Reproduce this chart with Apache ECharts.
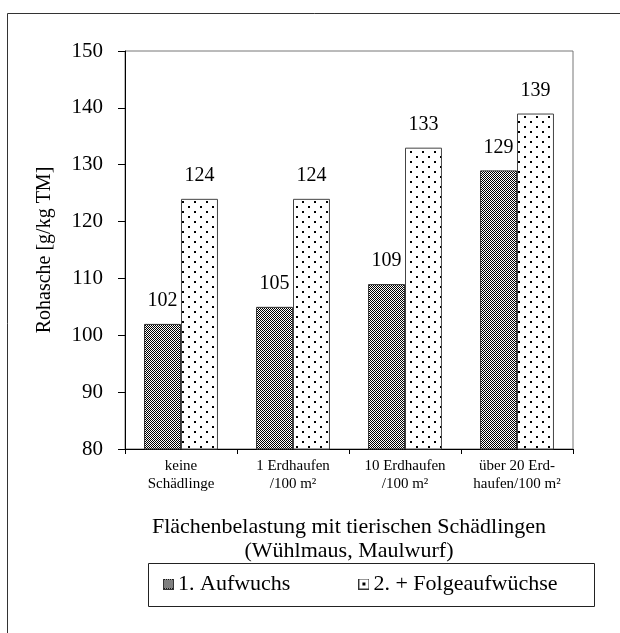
<!DOCTYPE html>
<html><head><meta charset="utf-8">
<script src="https://cdn.jsdelivr.net/npm/echarts@6/dist/echarts.min.js"></script>
<style>html,body{margin:0;padding:0;background:#fff}#c{width:620px;height:633px}</style>
</head><body><div id="c"></div>
<script>
const categories = ['keine\nSchädlinge', '1 Erdhaufen\n/100 m²', '10 Erdhaufen\n/100 m²', 'über 20 Erd-\nhaufen/100 m²'];
const seriesNames = ['1. Aufwuchs', '2. + Folgeaufwüchse'];
const aufwuchs1 = [102, 105, 109, 129];
const folgeaufwuchs = [124, 124, 133, 139];
const yTicks = {min: 80, max: 150, interval: 10};
const yName = 'Rohasche [g/kg TM]';
const xName = 'Flächenbelastung mit tierischen Schädlingen\n(Wühlmaus, Maulwurf)';

function checker() {
  const c = document.createElement('canvas'); c.width = 2; c.height = 2;
  const g = c.getContext('2d');
  g.fillStyle = '#fff'; g.fillRect(0,0,2,2);
  g.fillStyle = '#000'; g.fillRect(0,0,1,1); g.fillRect(1,1,1,1);
  return c;
}
function dots() {
  const c = document.createElement('canvas'); c.width = 12; c.height = 10;
  const g = c.getContext('2d');
  g.fillStyle = '#fff'; g.fillRect(0,0,12,10);
  g.fillStyle = '#000'; g.fillRect(2,1,2,2); g.fillRect(8,6,2,2);
  return c;
}
function iconChecker() {
  const c = document.createElement('canvas'); c.width = 11; c.height = 11;
  const g = c.getContext('2d');
  g.fillStyle = '#fff'; g.fillRect(0,0,11,11);
  g.fillStyle = '#000';
  for (let i = 1; i < 10; i++) for (let j = 1; j < 10; j++) if ((i + j) % 2 === 0) g.fillRect(i, j, 1, 1);
  g.strokeStyle = '#333'; g.lineWidth = 1; g.strokeRect(0.5, 0.5, 10, 10);
  return 'image://' + c.toDataURL();
}
function iconDot() {
  const c = document.createElement('canvas'); c.width = 11; c.height = 11;
  const g = c.getContext('2d');
  g.fillStyle = '#fff'; g.fillRect(0,0,11,11);
  g.fillStyle = '#000'; g.fillRect(4,4,3,3);
  g.strokeStyle = '#333'; g.lineWidth = 1; g.strokeRect(0.5, 0.5, 10, 10);
  return 'image://' + c.toDataURL();
}
const F = 'Liberation Serif, Times New Roman, serif';
const chart = echarts.init(document.getElementById('c'), null, {renderer: 'canvas'});
chart.setOption({
  animation: false,
  backgroundColor: '#fff',
  graphic: [
    {type: 'rect', shape: {x: 7.5, y: 13.5, width: 700, height: 700}, style: {fill: 'none', stroke: '#333', lineWidth: 1}, z: -1},
    {type: 'rect', shape: {x: 148.5, y: 563.5, width: 446, height: 43}, style: {fill: 'none', stroke: '#222', lineWidth: 1}, z: -1}
  ],
  grid: {left: 125, top: 51, width: 448, height: 398, show: true, borderColor: '#777', borderWidth: 1, backgroundColor: 'transparent'},
  legend: {
    left: 163, top: 573, padding: 0,
    itemWidth: 11, itemHeight: 11, itemGap: 68,
    textStyle: {fontFamily: F, fontSize: 22, color: '#000', padding: [0,0,0,-1]},
    data: [{name: seriesNames[0], icon: iconChecker()}, {name: seriesNames[1], icon: iconDot()}]
  },
  xAxis: {
    type: 'category', data: categories,
    axisLine: {lineStyle: {color: '#000', width: 1}},
    axisTick: {show: true, length: 5, lineStyle: {color: '#000'}},
    axisLabel: {interval: 0, hideOverlap: false, fontFamily: F, fontSize: 15, color: '#000', lineHeight: 18, margin: 8},
    name: xName, nameLocation: 'middle', nameGap: 66,
    nameTextStyle: {fontFamily: F, fontSize: 22, color: '#000', lineHeight: 24}
  },
  yAxis: {
    type: 'value', min: yTicks.min, max: yTicks.max, interval: yTicks.interval,
    axisLine: {show: true, lineStyle: {color: '#000', width: 1}},
    axisTick: {show: true, length: 7, lineStyle: {color: '#000'}},
    splitLine: {show: false},
    axisLabel: {fontFamily: F, fontSize: 21, color: '#000', margin: 22},
    name: yName, nameLocation: 'middle', nameGap: 70, nameRotate: 90,
    nameTextStyle: {fontFamily: F, fontSize: 20, color: '#000'}
  },
  series: [
    {name: seriesNames[0], type: 'bar', data: aufwuchs1, barGap: '0%', barCategoryGap: '34%',
     itemStyle: {color: {image: checker(), repeat: 'repeat'}, borderColor: '#333', borderWidth: 1},
     label: {show: true, position: 'top', distance: 13, fontFamily: F, fontSize: 20, color: '#000'}},
    {name: seriesNames[1], type: 'bar', data: folgeaufwuchs,
     itemStyle: {color: {image: dots(), repeat: 'repeat'}, borderColor: '#444', borderWidth: 1},
     label: {show: true, position: 'top', distance: 13, fontFamily: F, fontSize: 20, color: '#000'}}
  ]
});
</script></body></html>
